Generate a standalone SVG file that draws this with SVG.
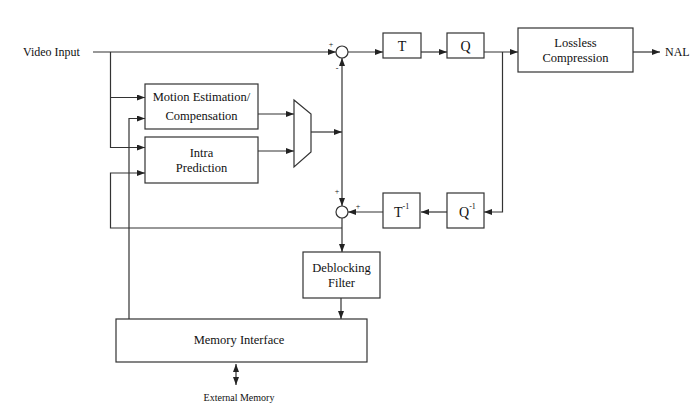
<svg xmlns="http://www.w3.org/2000/svg" width="700" height="412" viewBox="0 0 700 412">
<style>
  .box{fill:#fff;stroke:#333;stroke-width:1.2}
  .ln{fill:none;stroke:#333;stroke-width:1.2}
  .arr{fill:none;stroke:#333;stroke-width:1.2;marker-end:url(#ah)}
  text{font-family:"Liberation Serif","Times New Roman",serif;fill:#111}
  .lbl{font-size:12.5px;text-anchor:middle}
  .big{font-size:14px;text-anchor:middle}
  .side{font-size:12px}
  .sg{font-size:8px;text-anchor:middle}
</style>
<defs>
  <marker id="ah" markerUnits="userSpaceOnUse" markerWidth="9" markerHeight="7" refX="8" refY="3" orient="auto-start-reverse">
    <path d="M0,0 L8,3 L0,6 z" fill="#222"/>
  </marker>
</defs>
<rect width="700" height="412" fill="#fff"/>

<g id="connectors">
  <path class="arr" d="M93 52 H336"/>
  <path class="arr" d="M110.5 52 V147.5 H145"/>
  <path class="arr" d="M110.5 97.5 H145"/>
  <path class="arr" d="M342 228 H110.5 V173 H145"/>
  <path class="arr" d="M129 319 V118.5 H145"/>
  <path class="arr" d="M258 114 H294"/>
  <path class="arr" d="M258 151 H294"/>
  <path class="arr" d="M311 132 H342"/>
  <path class="arr" d="M342 132 V58"/>
  <path class="arr" d="M342 132 V206"/>
  <path class="arr" d="M348 52 H383"/>
  <path class="arr" d="M421 52 H447"/>
  <path class="arr" d="M484 52 H518"/>
  <path class="arr" d="M633 52 H660"/>
  <path class="arr" d="M502.5 52 V212 H484"/>
  <path class="arr" d="M447 212 H421"/>
  <path class="arr" d="M383 212 H348"/>
  <path class="arr" d="M342 218 V252"/>
  <path class="arr" d="M341 298 V319"/>
  <path class="ln" d="M236 364 V385" marker-start="url(#ah)" marker-end="url(#ah)"/>
</g>

<g id="video-input"><text class="side" x="23" y="56">Video Input</text></g>

<g id="sum-top">
  <circle cx="342" cy="52" r="6" fill="#fff" stroke="#333" stroke-width="1.2"/>
  <text class="sg" x="331" y="47">+</text>
  <text class="sg" x="337" y="71">-</text>
</g>

<g id="sum-bottom">
  <circle cx="342" cy="212" r="6" fill="#fff" stroke="#333" stroke-width="1.2"/>
  <text class="sg" x="337" y="194">+</text>
  <text class="sg" x="358" y="209">+</text>
</g>

<g id="motion-estimation">
  <rect class="box" x="145" y="84" width="113" height="45"/>
  <text class="lbl" x="201.5" y="101">Motion Estimation/</text>
  <text class="lbl" x="201.5" y="120">Compensation</text>
</g>

<g id="intra-prediction">
  <rect class="box" x="145" y="137" width="113" height="46"/>
  <text class="lbl" x="201.5" y="157">Intra</text>
  <text class="lbl" x="201.5" y="172">Prediction</text>
</g>

<g id="mux">
  <polygon class="box" points="294,100 311,114 311,152 294,167"/>
</g>

<g id="t">
  <rect class="box" x="383" y="33" width="38" height="25"/>
  <text class="big" x="402" y="50.5">T</text>
</g>

<g id="q">
  <rect class="box" x="447" y="33" width="37" height="25"/>
  <text class="big" x="465.5" y="50.5">Q</text>
</g>

<g id="lossless">
  <rect class="box" x="518" y="28" width="115" height="44"/>
  <text class="lbl" x="575.5" y="47">Lossless</text>
  <text class="lbl" x="575.5" y="62">Compression</text>
</g>

<g id="nal"><text class="side" x="665" y="56">NAL</text></g>

<g id="t-inv">
  <rect class="box" x="383" y="193" width="37" height="35"/>
  <text x="394" y="217" font-size="14px">T<tspan font-size="8px" dy="-8">-1</tspan></text>
</g>

<g id="q-inv">
  <rect class="box" x="447" y="193" width="37" height="35"/>
  <text x="459" y="217" font-size="14px">Q<tspan font-size="8px" dy="-8">-1</tspan></text>
</g>

<g id="deblocking">
  <rect class="box" x="303" y="252" width="77" height="46"/>
  <text class="lbl" x="341.5" y="272">Deblocking</text>
  <text class="lbl" x="341.5" y="287">Filter</text>
</g>

<g id="memory-interface">
  <rect class="box" x="116" y="319" width="251" height="43"/>
  <text class="lbl" x="239" y="343.5">Memory Interface</text>
</g>

<g id="external-memory"><text x="239" y="401" font-size="10px" text-anchor="middle">External Memory</text></g>
</svg>
